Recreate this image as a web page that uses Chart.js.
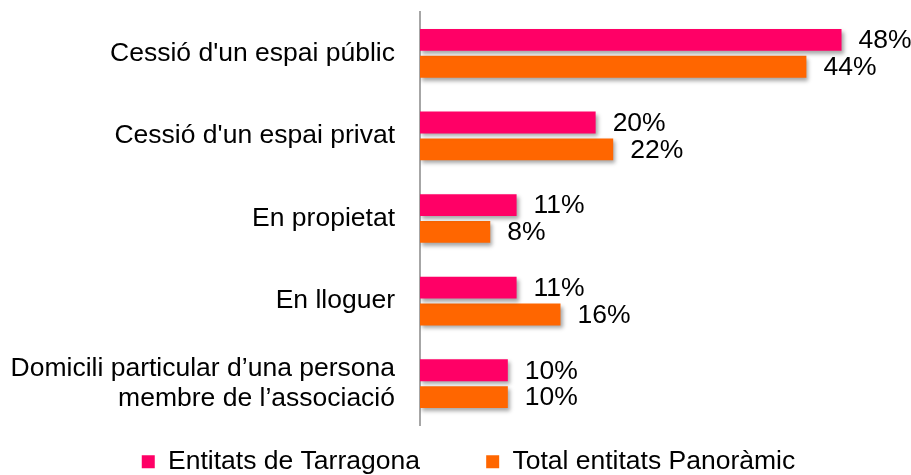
<!DOCTYPE html>
<html>
<head>
<meta charset="utf-8">
<script src="https://cdn.jsdelivr.net/npm/chart.js@4/dist/chart.umd.min.js"></script>
<style>
  html, body { margin: 0; padding: 0; background: #fff; }
  #wrap { width: 911px; height: 475px; position: relative; }
</style>
</head>
<body>
<div id="wrap"><canvas id="chart"></canvas></div>
<script>
'use strict';

// categories (top to bottom)
var categories = [
    "Cessió d'un espai públic",
    "Cessió d'un espai privat",
    'En propietat',
    'En lloguer',
    ['Domicili particular d\u2019una persona', 'membre de l\u2019associació']
];

// series values, %
var tarragona = [48, 20, 11, 11, 10];
var panoramic = [44, 22, 8, 16, 10];

var series_names = ['Entitats de Tarragona', 'Total entitats Panoràmic'];
var series_colors = ['#ff0066', '#ff6600'];

var FONT = "'Liberation Sans', Arial, sans-serif";
var FONT_SIZE = 26.5;

// drop shadow under bars + value labels at bar ends
var bar_extras = {
    id: 'bar_extras',
    afterLayout: function(chart) {
        // nudge legend a bit right/down, like the original
        var lg = chart.legend;
        lg.left += 17; lg.right += 17;
        lg.top += 10; lg.bottom += 10;
    },
    beforeDatasetsDraw: function(chart) {
        var ctx = chart.ctx;
        ctx.save();
        ctx.shadowColor = 'rgba(0,0,0,0.35)';
        ctx.shadowBlur = 4;
        ctx.shadowOffsetX = 2;
        ctx.shadowOffsetY = 3;
    },
    afterDatasetsDraw: function(chart) {
        var ctx = chart.ctx;
        ctx.restore();
        ctx.save();
        ctx.font = FONT_SIZE + 'px ' + FONT;
        ctx.fillStyle = '#000';
        ctx.textAlign = 'left';
        ctx.textBaseline = 'middle';
        chart.data.datasets.forEach(function(ds, di) {
            var meta = chart.getDatasetMeta(di);
            meta.data.forEach(function(bar, i) {
                ctx.fillText(ds.data[i] + '%', bar.x + 17, bar.y + 1);
            });
        });
        ctx.restore();
    }
};

new Chart(document.getElementById('chart'), {
    type: 'bar',
    data: {
        labels: categories,
        datasets: [
            {label: series_names[0], data: tarragona, backgroundColor: series_colors[0]},
            {label: series_names[1], data: panoramic, backgroundColor: series_colors[1]}
        ]
    },
    options: {
        indexAxis: 'y',
        responsive: true,
        maintainAspectRatio: false,
        animation: false,
        categoryPercentage: 0.65,
        barPercentage: 0.815,
        layout: {padding: {top: 12, right: 8, bottom: 0, left: 0}},
        scales: {
            x: {
                min: 0,
                max: 55,
                grid: {display: false},
                border: {display: false},
                ticks: {display: false},
                afterFit: function(s) {
                    s.height = 13.5;
                    s.paddingLeft = s.paddingRight = 0;
                }
            },
            y: {
                grid: {display: false, drawTicks: false},
                border: {display: true, color: '#a6a6a6', width: 2},
                ticks: {
                    color: '#000',
                    padding: 25,
                    font: {family: FONT, size: FONT_SIZE, lineHeight: 1.13}
                },
                afterFit: function(s) {
                    s.width = 420;
                    s.paddingTop = s.paddingBottom = 0;
                }
            }
        },
        plugins: {
            legend: {
                position: 'bottom',
                labels: {
                    color: '#000',
                    boxWidth: 13,
                    boxHeight: 13,
                    padding: 0,
                    font: {family: FONT, size: FONT_SIZE},
                    generateLabels: function(chart) {
                        var items = Chart.defaults.plugins.legend.labels.generateLabels(chart);
                        // trailing spaces widen the gap after the first entry
                        items[0].text += '         ';
                        return items;
                    }
                }
            },
            tooltip: {enabled: false}
        }
    },
    plugins: [bar_extras]
});
</script>
</body>
</html>
